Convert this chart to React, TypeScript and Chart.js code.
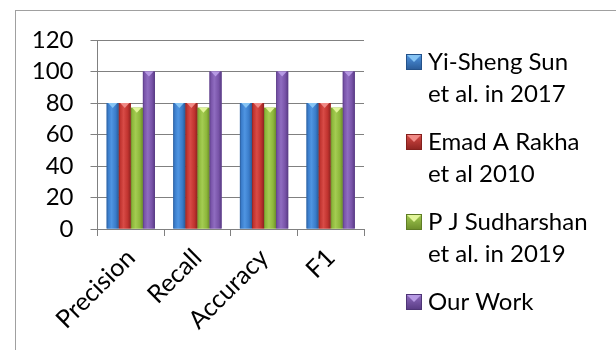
import React, { useEffect, useRef } from "react";
import { Chart, registerables } from "chart.js";

Chart.register(...registerables);

const categories = ["Precision", "Recall", "Accuracy", "F1"];
const seriesLines = [
  ["Yi-Sheng Sun", "et al. in 2017"],
  ["Emad A Rakha", "et al 2010"],
  ["P J Sudharshan", "et al. in 2019"],
  ["Our Work"],
];
const yiShengSun2017 = [80, 80, 80, 80];
const rakha2010 = [80, 80, 80, 80];
const sudharshan2019 = [77, 77, 77, 77];
const ourWork = [100, 100, 100, 100];
const yMin = 0;
const yMax = 120;
const yStep = 20;

const FONT = "Lato, 'Liberation Sans', sans-serif";
const FONT_SIZE = 24;

const palettes = [
  { dark: "#2a5a96", mid: "#3a7cca", light: "#4f95e2", tip: "#86c4f4", border: "#24528a" },
  { dark: "#8c2320", mid: "#c0332f", light: "#d84b46", tip: "#f08a86", border: "#84201d" },
  { dark: "#6b8c2a", mid: "#8db73b", light: "#a4cc52", tip: "#e2f59a", border: "#5f7d25" },
  { dark: "#573a82", mid: "#7853a8", light: "#8f6cc0", tip: "#b79ae4", border: "#4e3576" },
];

function barGradient(ctx: CanvasRenderingContext2D, left: number, right: number, p: any) {
  const g = ctx.createLinearGradient(left, 0, right, 0);
  g.addColorStop(0, p.dark);
  g.addColorStop(0.12, p.mid);
  g.addColorStop(0.4, p.light);
  g.addColorStop(0.75, p.mid);
  g.addColorStop(1, p.dark);
  return g;
}

const barStylePlugin = {
  id: "barStyle",
  afterDatasetsDraw(chart: any) {
    const ctx: CanvasRenderingContext2D = chart.ctx;
    ctx.save();
    chart.data.datasets.forEach((_ds: any, i: number) => {
      const meta = chart.getDatasetMeta(i);
      const p = palettes[i];
      meta.data.forEach((el: any) => {
        const { x, y, base, width } = el.getProps(["x", "y", "base", "width"], true);
        const left = x - width / 2;
        const right = x + width / 2;
        ctx.fillStyle = barGradient(ctx, left, right, p);
        ctx.fillRect(left, y, width, base - y);
        ctx.beginPath();
        ctx.moveTo(left + 1.5, y);
        ctx.lineTo(right - 1.5, y);
        ctx.lineTo(x, y + 5);
        ctx.closePath();
        ctx.fillStyle = p.tip;
        ctx.fill();
      });
    });
    ctx.restore();
  },
};

const LEG_BOX_X = 406;
const LEG_BOX = 16;
const LEG_TEXT_X = 428;
const LEG_FIRST_Y = 62;
const LEG_PITCH = 80;
const LEG_LINE = 32;

const legendPlugin = {
  id: "sideLegend",
  afterDraw(chart: any) {
    const ctx: CanvasRenderingContext2D = chart.ctx;
    ctx.save();
    ctx.font = `${FONT_SIZE}px ${FONT}`;
    ctx.textBaseline = "middle";
    ctx.textAlign = "left";
    chart.data.datasets.forEach((_ds: any, i: number) => {
      const p = palettes[i];
      const cy = LEG_FIRST_Y + i * LEG_PITCH;
      const bx = LEG_BOX_X;
      const by = cy - LEG_BOX / 2;
      const g = ctx.createLinearGradient(0, by, 0, by + LEG_BOX);
      g.addColorStop(0, p.light);
      g.addColorStop(1, p.dark);
      ctx.fillStyle = g;
      ctx.fillRect(bx, by, LEG_BOX, LEG_BOX);
      ctx.beginPath();
      ctx.moveTo(bx + 1, by + 1);
      ctx.lineTo(bx + LEG_BOX - 1, by + 1);
      ctx.lineTo(bx + LEG_BOX / 2, by + LEG_BOX / 2);
      ctx.closePath();
      ctx.fillStyle = p.tip;
      ctx.fill();
      ctx.strokeStyle = p.border;
      ctx.lineWidth = 1;
      ctx.strokeRect(bx + 0.5, by + 0.5, LEG_BOX - 1, LEG_BOX - 1);
      ctx.fillStyle = "#000";
      seriesLines[i].forEach((t, j) => ctx.fillText(t, LEG_TEXT_X, cy + j * LEG_LINE));
    });
    ctx.restore();
  },
};

export default function App() {
  const ref = useRef<HTMLCanvasElement | null>(null);
  useEffect(() => {
    if (!ref.current) return;
    const series = [yiShengSun2017, rakha2010, sudharshan2019, ourWork];
    const chart = new Chart(ref.current, {
      type: "bar",
      data: {
        labels: categories,
        datasets: series.map((d, i) => ({
          label: seriesLines[i].join(" "),
          data: d,
          backgroundColor: palettes[i].mid,
          borderWidth: 0,
          categoryPercentage: 0.725,
          barPercentage: 1,
        })),
      },
      options: {
        responsive: false,
        animation: false,
        layout: { padding: { left: 0, top: 40, right: 252, bottom: 0 } },
        plugins: { legend: { display: false }, tooltip: { enabled: false } },
        scales: {
          x: {
            afterFit: (s: any) => {
              s.height = 121;
            },
            grid: {
              display: true,
              drawOnChartArea: false,
              drawTicks: true,
              tickLength: 7,
              color: "#808080",
              offset: true,
            },
            border: { display: true, color: "#808080", width: 1 },
            ticks: {
              minRotation: 45,
              maxRotation: 45,
              autoSkip: false,
              color: "#000",
              padding: 7,
              font: { family: FONT, size: 25 },
            },
          },
          y: {
            min: yMin,
            max: yMax,
            afterFit: (s: any) => {
              s.width = 97.5;
            },
            grid: { color: "#808080", tickLength: 7, lineWidth: 1 },
            border: { display: true, color: "#808080", width: 1 },
            ticks: {
              stepSize: yStep,
              autoSkip: false,
              color: "#000",
              padding: 17,
              font: { family: FONT, size: FONT_SIZE },
            },
          },
        },
      },
      plugins: [barStylePlugin, legendPlugin],
    });
    return () => chart.destroy();
  }, []);

  return (
    <div
      style={{
        position: "fixed",
        left: 0,
        top: 0,
        width: 616,
        height: 350,
        overflow: "hidden",
        background: "#fff",
      }}
    >
      <canvas ref={ref} width={616} height={350} style={{ position: "absolute", left: 0, top: 0 }} />
      <div
        style={{
          position: "absolute",
          left: 15,
          top: 10,
          width: 800,
          height: 600,
          borderLeft: "1.5px solid #a0a0a0",
          borderTop: "1.5px solid #a0a0a0",
          pointerEvents: "none",
        }}
      />
    </div>
  );
}
